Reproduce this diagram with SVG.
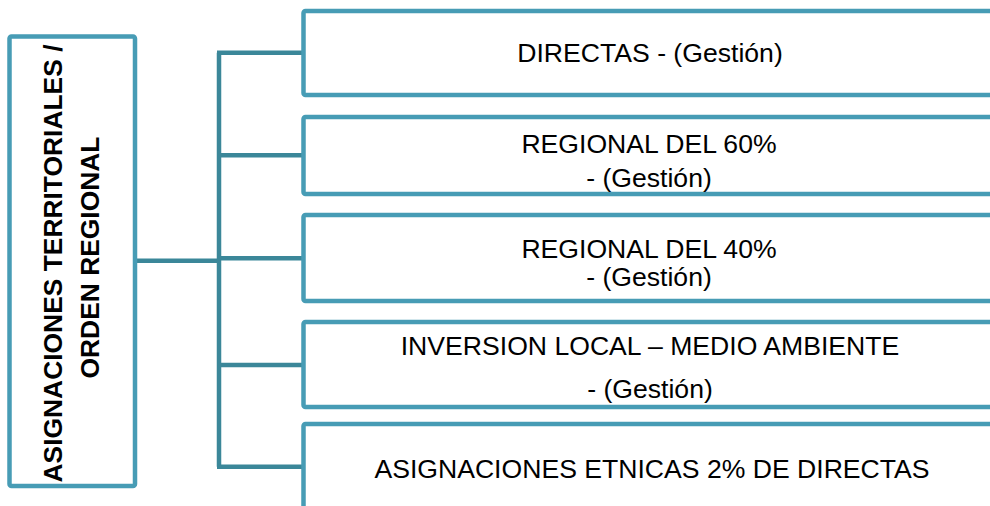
<svg xmlns="http://www.w3.org/2000/svg" width="990" height="506" viewBox="0 0 990 506">
<style>
.box{fill:#ffffff;stroke:#479cb5;stroke-width:4.5;stroke-linejoin:round}
.conn{fill:none;stroke:#3b8799;stroke-width:4.5;stroke-linecap:butt}
.t{font-family:"Liberation Sans",Arial,sans-serif;font-size:26.6px;fill:#000;text-anchor:middle}
.b{font-weight:bold;font-size:26.4px}
</style>
<rect x="0" y="0" width="990" height="506" fill="#ffffff"/>
<g id="connectors">
<path class="conn" d="M135,260.7 H219"/>
<path class="conn" d="M219,52.7 V466.7"/>
<path class="conn" d="M217,52.7 H304"/>
<path class="conn" d="M219,155.3 H304"/>
<path class="conn" d="M219,258.3 H304"/>
<path class="conn" d="M219,365 H304"/>
<path class="conn" d="M217,466.7 H304"/>
</g>
<g id="root">
<rect class="box" x="9.5" y="36.5" width="125.5" height="449.5" rx="2"/>
<text class="t b" transform="translate(62,263.5) rotate(-90)">ASIGNACIONES TERRITORIALES /</text>
<text class="t b" transform="translate(98.5,257.5) rotate(-90)">ORDEN REGIONAL</text>
</g>
<g id="n1">
<rect class="box" x="303.5" y="11" width="720" height="84" rx="2"/>
<text class="t" x="650" y="62">DIRECTAS - (Gestión)</text>
</g>
<g id="n2">
<rect class="box" x="303.5" y="117" width="720" height="77" rx="2"/>
<text class="t" x="649" y="152.5">REGIONAL DEL 60%</text>
<text class="t" x="649" y="187">- (Gestión)</text>
</g>
<g id="n3">
<rect class="box" x="303.5" y="215" width="720" height="86" rx="2"/>
<text class="t" x="649" y="257.5">REGIONAL DEL 40%</text>
<text class="t" x="649" y="286">- (Gestión)</text>
</g>
<g id="n4">
<rect class="box" x="303.5" y="322" width="720" height="85" rx="2"/>
<text class="t" x="650" y="354.5">INVERSION LOCAL – MEDIO AMBIENTE</text>
<text class="t" x="650" y="397.5">- (Gestión)</text>
</g>
<g id="n5">
<rect class="box" x="303.5" y="424" width="720" height="120" rx="2"/>
<text class="t" x="652" y="477.5">ASIGNACIONES ETNICAS 2% DE DIRECTAS</text>
</g>
</svg>
